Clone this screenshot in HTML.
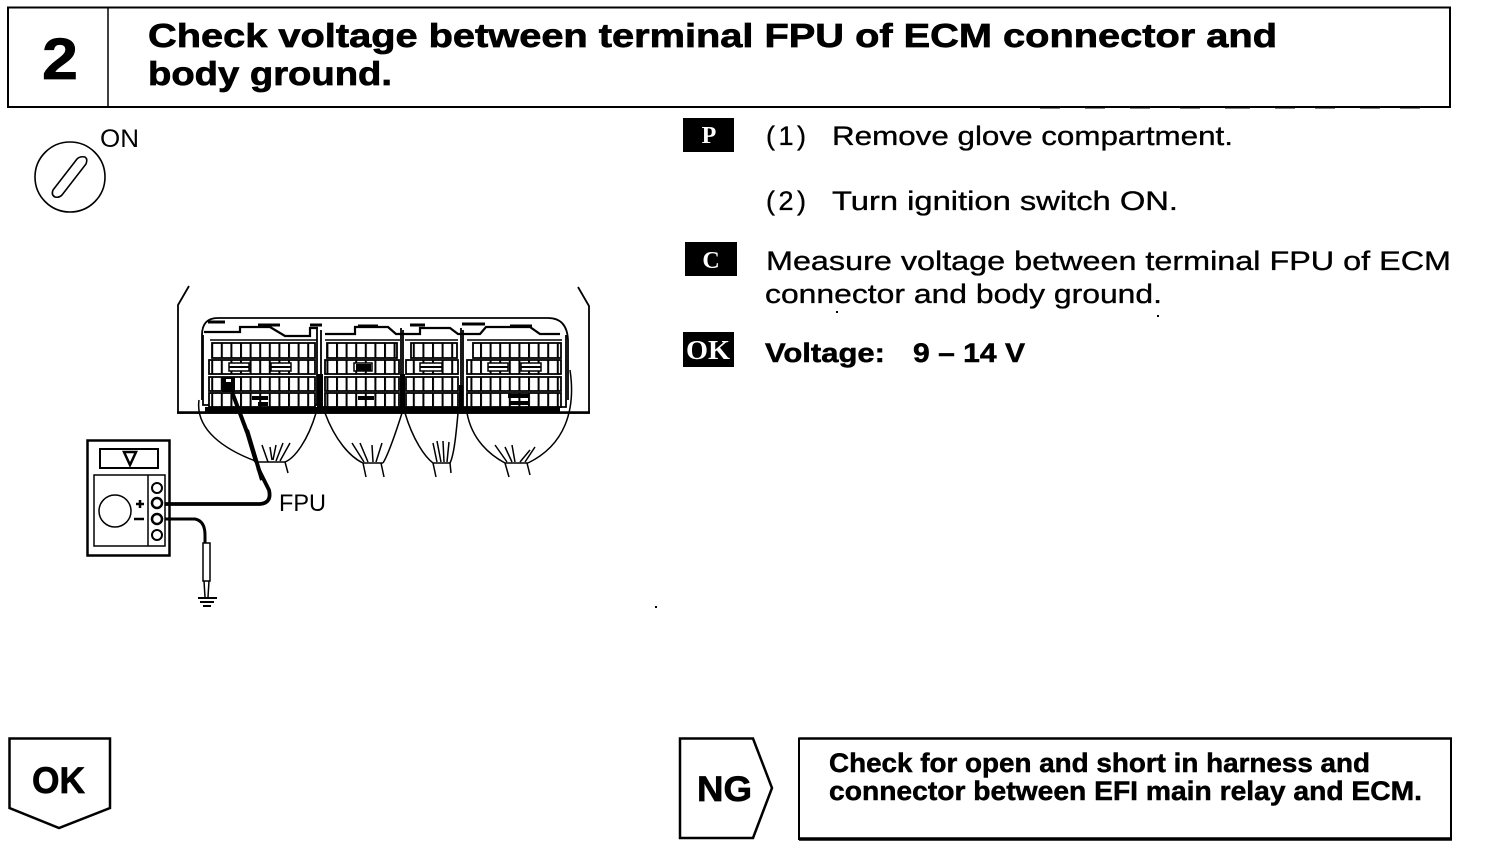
<!DOCTYPE html>
<html><head><meta charset="utf-8"><style>
html,body{margin:0;padding:0;background:#fff}
svg{display:block}
text{font-family:"Liberation Sans",sans-serif;fill:#000}
.b{font-weight:bold;stroke:#000;stroke-width:.7px}
.t{font-size:33px;font-weight:bold;stroke:#000;stroke-width:.7px}
.s{font-size:27px;stroke:#000;stroke-width:.35px}
.n{font-size:27px;font-weight:bold;stroke:#000;stroke-width:.5px}
.w{font-family:"Liberation Serif",serif;font-weight:bold;fill:#fff}
</style></head><body>
<svg width="1488" height="848" viewBox="0 0 1488 848" xmlns="http://www.w3.org/2000/svg">
<defs>
<pattern id="c" width="9.6" height="20" patternUnits="userSpaceOnUse"><rect width="9.6" height="20" fill="#fff"/><rect width="2" height="20" fill="#000"/></pattern>
</defs>
<rect width="1488" height="848" fill="#fff"/>

<!-- header -->
<rect x="8" y="7.500" width="1442" height="99.500" fill="none" stroke="#000" stroke-width="2"/>
<line x1="108" y1="8" x2="108" y2="107" stroke="#000" stroke-width="1.500"/>
<text x="42" y="79" class="b" font-size="58" textLength="36" lengthAdjust="spacingAndGlyphs">2</text>
<text x="148" y="47" class="t" textLength="1129" lengthAdjust="spacingAndGlyphs">Check voltage between terminal FPU of ECM connector and</text>
<text x="148" y="85" class="t" textLength="244" lengthAdjust="spacingAndGlyphs">body ground.</text>
<path d="M1040 107.500H1060M1085 107.500H1105M1130 107.500H1150M1180 107.500H1200M1225 107.500H1250M1275 107.500H1295M1315 107.500H1335M1360 107.500H1380M1400 107.500H1420" stroke="#000" stroke-width="2"/>

<!-- ignition icon -->
<circle cx="70" cy="177" r="35" fill="none" stroke="#000" stroke-width="1.600"/>
<path d="M77 159L53 190Q51 195 55 197Q59 198 62 195L86 164Q88 159 85 157Q80 156 77 159Z" fill="none" stroke="#000" stroke-width="1.600"/>
<text x="100" y="147" font-size="25" textLength="39" lengthAdjust="spacingAndGlyphs">ON</text>

<!-- ECM housing -->
<g fill="none" stroke="#000">
<path d="M189 286L178 305V413H589V306L578 287" stroke-width="1.800"/>
<path d="M177 412.500H590" stroke-width="2.500"/>
<path d="M202 400V335Q202 318 218 318H548Q567 318 568 340V400" stroke-width="1.800"/>
<path d="M204 332H240V327H270L285 336H310V328H318M325 334H355V327H388L396 334H420V328H450L458 334H480L486 327H530L540 334H560" stroke-width="2.200"/>
<path d="M208 322H225M258 325H280M310 325H322M358 326H378M410 325H425M462 324H485M510 326H532" stroke-width="3"/>
<path d="M210 340H317M325 340H400M405 340H458M467 340H562" stroke-width="1.500"/>
<path d="M203 335V405H317V328M321 330V407H401V328M403 330V407H461V328M463 330V407H566V335" stroke-width="1.800"/>
</g>

<!-- connector cells -->
<g stroke="#000" stroke-width="1.800">
<rect x="212" y="343" width="103" height="15" fill="url(#c)"/>
<rect x="209" y="360" width="106" height="14" fill="url(#c)"/>
<rect x="209" y="377" width="106" height="14" fill="url(#c)"/>
<rect x="209" y="393" width="106" height="14" fill="url(#c)"/>

<rect x="327" y="343" width="70" height="15" fill="url(#c)"/>
<rect x="325" y="360" width="74" height="14" fill="url(#c)"/>
<rect x="325" y="377" width="74" height="14" fill="url(#c)"/>
<rect x="325" y="393" width="74" height="14" fill="url(#c)"/>

<rect x="411" y="343" width="46" height="15" fill="url(#c)"/>
<rect x="406" y="360" width="52" height="14" fill="url(#c)"/>
<rect x="406" y="377" width="52" height="14" fill="url(#c)"/>
<rect x="406" y="393" width="52" height="14" fill="url(#c)"/>

<rect x="473" y="343" width="88" height="15" fill="url(#c)"/>
<rect x="467" y="360" width="94" height="14" fill="url(#c)"/>
<rect x="467" y="377" width="94" height="14" fill="url(#c)"/>
<rect x="467" y="393" width="94" height="14" fill="url(#c)"/>
</g>
<g fill="#fff" stroke="#000" stroke-width="1.500">
<rect x="229" y="363" width="20" height="8"/><rect x="271" y="363" width="20" height="8"/>
<rect x="354" y="363" width="18" height="8"/><rect x="420" y="363" width="22" height="8"/>
<rect x="488" y="363" width="20" height="8"/><rect x="521" y="363" width="20" height="8"/>
</g>
<g fill="#000">
<rect x="229" y="366" width="20" height="2"/><rect x="271" y="366" width="20" height="2"/>
<rect x="356" y="364" width="15" height="7"/><rect x="420" y="366" width="22" height="2"/>
<rect x="488" y="366" width="20" height="2"/><rect x="521" y="366" width="20" height="2"/>
<rect x="222" y="377" width="13" height="15"/>
<rect x="252" y="396" width="16" height="4"/><rect x="258" y="402" width="10" height="4"/>
<rect x="358" y="396" width="16" height="4"/><rect x="508" y="394" width="20" height="4"/><rect x="510" y="401" width="18" height="4"/>
<rect x="317" y="374" width="6" height="33"/><rect x="400" y="374" width="5" height="33"/><rect x="459" y="385" width="4" height="22"/>
<rect x="205" y="407" width="355" height="6"/>
</g>
<rect x="226" y="379" width="5" height="3" fill="#fff"/>

<!-- harness -->
<g fill="none" stroke="#000" stroke-width="1.500">
<path d="M199 400C195 430 225 450 258 462"/>
<path d="M316 413C308 440 295 458 285 462H258"/>
<path d="M285 462L288 473"/>
<path d="M262 445L268 462M270 447L272 460M276 445L273 460M283 443L276 461M290 443L280 461"/>
<path d="M325 413C335 440 350 457 363 463H383"/>
<path d="M402 413C395 435 388 455 383 463"/>
<path d="M352 443L364 462M360 443L368 462M372 445L373 462M382 443L376 462M363 463L366 477M381 463L384 477"/>
<path d="M405 413C413 440 425 457 433 463H450"/>
<path d="M458 413C456 435 454 455 450 463"/>
<path d="M433 443L437 462M437 441L441 462M443 441L444 462M449 442L447 462M433 463L436 477M450 463L451 473"/>
<path d="M467 413C472 440 490 455 505 463H528"/>
<path d="M570 370C576 410 565 445 528 463"/>
<path d="M495 445L507 462M505 447L512 462M512 445L515 462M530 450L520 462M535 447L525 462M505 463L509 477M527 463L530 475"/>
</g>

<!-- probe and leads -->
<path d="M232 392L247 432" stroke="#000" stroke-width="4" fill="none"/>
<path d="M240 412L255 462" stroke="#000" stroke-width="2" fill="none"/>
<path d="M247 430L262 480" stroke="#000" stroke-width="4" fill="none"/>
<path d="M258 468L269 490Q272 503 260 504H165" stroke="#000" stroke-width="3.800" fill="none"/>
<path d="M165 519H195Q205 521 205 535V543" stroke="#000" stroke-width="3" fill="none"/>
<text x="279" y="511" font-size="24" textLength="47" lengthAdjust="spacingAndGlyphs">FPU</text>

<!-- meter -->
<g fill="none" stroke="#000">
<rect x="87.500" y="440.500" width="82" height="115" stroke-width="2.500"/>
<rect x="100" y="449" width="58" height="19" stroke-width="2"/>
<rect x="94" y="475" width="71" height="71" stroke-width="1.500"/>
<line x1="148" y1="475" x2="148" y2="546" stroke-width="1.500"/>
<circle cx="115" cy="511" r="16" stroke-width="1.500"/>
<circle cx="157" cy="488" r="5" stroke-width="2"/>
<circle cx="157" cy="503" r="5" stroke-width="2.500"/>
<circle cx="157" cy="519" r="5" stroke-width="2.500"/>
<circle cx="157" cy="535" r="5" stroke-width="2"/>
</g>
<path d="M124 452H136L130 465Z" fill="none" stroke="#000" stroke-width="2.500"/>
<path d="M136 504H144M140 500V508M134 519H144" stroke="#000" stroke-width="2.500" fill="none"/>

<!-- ground probe -->
<rect x="203" y="543" width="7" height="38" fill="#fff" stroke="#000" stroke-width="1.500"/>
<path d="M204 581L205 597M209 581L208 597" stroke="#000" stroke-width="1.500" fill="none"/>
<path d="M198 598H217M200 602H214M203 606H211" stroke="#000" stroke-width="2" fill="none"/>

<!-- right column -->
<rect x="683" y="118" width="51" height="34" fill="#000"/>
<text x="709" y="143" text-anchor="middle" class="w" font-size="24">P</text>
<rect x="685" y="242" width="52" height="34" fill="#000"/>
<text x="711" y="268" text-anchor="middle" class="w" font-size="24">C</text>
<rect x="683" y="332" width="51" height="35" fill="#000"/>
<text x="708" y="359" text-anchor="middle" class="w" font-size="27" textLength="44" lengthAdjust="spacingAndGlyphs">OK</text>

<text x="766" y="145" class="s" textLength="40" lengthAdjust="spacing">(1)</text>
<text x="832" y="145" class="s" textLength="401" lengthAdjust="spacingAndGlyphs">Remove glove compartment.</text>
<text x="766" y="210" class="s" textLength="40" lengthAdjust="spacing">(2)</text>
<text x="832" y="210" class="s" textLength="346" lengthAdjust="spacingAndGlyphs">Turn ignition switch ON.</text>
<text x="766" y="270" class="s" textLength="685" lengthAdjust="spacingAndGlyphs">Measure voltage between terminal FPU of ECM</text>
<text x="765" y="303" class="s" textLength="397" lengthAdjust="spacingAndGlyphs">connector and body ground.</text>
<text x="765" y="362" class="n" textLength="120" lengthAdjust="spacingAndGlyphs">Voltage:</text>
<text x="913" y="362" class="n" textLength="112" lengthAdjust="spacingAndGlyphs">9 – 14 V</text>

<!-- stray specks -->
<rect x="655" y="606" width="2" height="2" fill="#000"/>
<rect x="836" y="311" width="2" height="2" fill="#000"/>
<rect x="1157" y="315" width="2" height="2" fill="#000"/>

<!-- OK -->
<path d="M9.500 738.500H110V808L59 828L9.500 808Z" fill="none" stroke="#000" stroke-width="2.500"/>
<text x="32" y="793" class="b" font-size="37" textLength="53" lengthAdjust="spacingAndGlyphs">OK</text>

<!-- NG -->
<path d="M680 738.500H753L772 788L753 838H680Z" fill="none" stroke="#000" stroke-width="2.500"/>
<text x="697" y="801" class="b" font-size="35" textLength="55" lengthAdjust="spacingAndGlyphs">NG</text>

<rect x="799" y="738.500" width="652" height="100.500" fill="none" stroke="#000" stroke-width="2"/>
<line x1="799" y1="839" x2="1452" y2="839" stroke="#000" stroke-width="3.500"/>
<line x1="799" y1="738.500" x2="1452" y2="738.500" stroke="#000" stroke-width="2.500"/>
<text x="829" y="772" class="n" textLength="541" lengthAdjust="spacingAndGlyphs">Check for open and short in harness and</text>
<text x="829" y="800" class="n" textLength="593" lengthAdjust="spacingAndGlyphs">connector between EFI main relay and ECM.</text>
</svg>
</body></html>
